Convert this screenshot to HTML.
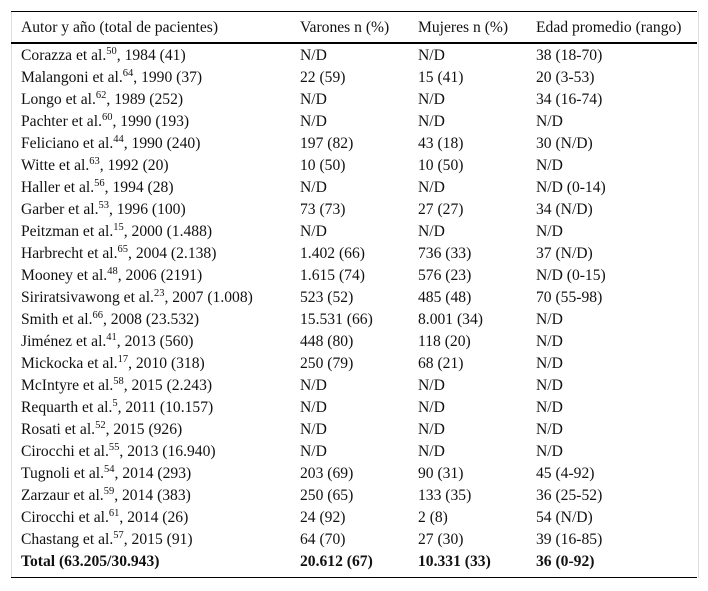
<!DOCTYPE html>
<html><head><meta charset="utf-8"><style>
body{margin:0;width:708px;height:591px;background:#fff;font-family:"Liberation Serif",serif;font-size:15.6px;color:#111;position:relative;overflow:hidden}
.frame{position:absolute;left:11px;top:11px;width:686px;height:567px;border-left:1px solid #ddd;border-right:1px solid #ddd}
.line{position:absolute;left:11px;width:686px;background:#000}
.row{position:absolute;left:0;width:708px;height:22px;line-height:22px;white-space:nowrap}
.row span{position:absolute;top:0}
.c1{left:21px}.c2{left:300px}.c3{left:418px}.c4{left:536px}
sup{font-size:10.5px;line-height:0;vertical-align:6px}
.b{font-weight:bold}
</style></head><body>
<div class="frame"></div>
<div class="line" style="top:11px;height:1px"></div>
<div class="line" style="top:42px;height:2px"></div>
<div class="line" style="top:577px;height:1px"></div>
<div class="row" style="top:17px">
<span class="c1">Autor y año (total de pacientes)</span><span class="c2">Varones n (%)</span><span class="c3">Mujeres n (%)</span><span class="c4">Edad promedio (rango)</span></div>
<div id="body"></div>
<script>
const authors=[["Corazza et al.","50",", 1984 (41)"],["Malangoni et al.","64",", 1990 (37)"],["Longo et al.","62",", 1989 (252)"],["Pachter et al.","60",", 1990 (193)"],["Feliciano et al.","44",", 1990 (240)"],["Witte et al.","63",", 1992 (20)"],["Haller et al.","56",", 1994 (28)"],["Garber et al.","53",", 1996 (100)"],["Peitzman et al.","15",", 2000 (1.488)"],["Harbrecht et al.","65",", 2004 (2.138)"],["Mooney et al.","48",", 2006 (2191)"],["Siriratsivawong et al.","23",", 2007 (1.008)"],["Smith et al.","66",", 2008 (23.532)"],["Jiménez et al.","41",", 2013 (560)"],["Mickocka et al.","17",", 2010 (318)"],["McIntyre et al.","58",", 2015 (2.243)"],["Requarth et al.","5",", 2011 (10.157)"],["Rosati et al.","52",", 2015 (926)"],["Cirocchi et al.","55",", 2013 (16.940)"],["Tugnoli et al.","54",", 2014 (293)"],["Zarzaur et al.","59",", 2014 (383)"],["Cirocchi et al.","61",", 2014 (26)"],["Chastang et al.","57",", 2015 (91)"]];
const men=["N/D","22 (59)","N/D","N/D","197 (82)","10 (50)","N/D","73 (73)","N/D","1.402 (66)","1.615 (74)","523 (52)","15.531 (66)","448 (80)","250 (79)","N/D","N/D","N/D","N/D","203 (69)","250 (65)","24 (92)","64 (70)"];
const women=["N/D","15 (41)","N/D","N/D","43 (18)","10 (50)","N/D","27 (27)","N/D","736 (33)","576 (23)","485 (48)","8.001 (34)","118 (20)","68 (21)","N/D","N/D","N/D","N/D","90 (31)","133 (35)","2 (8)","27 (30)"];
const ages=["38 (18-70)","20 (3-53)","34 (16-74)","N/D","30 (N/D)","N/D","N/D (0-14)","34 (N/D)","N/D","37 (N/D)","N/D (0-15)","70 (55-98)","N/D","N/D","N/D","N/D","N/D","N/D","N/D","45 (4-92)","36 (25-52)","54 (N/D)","39 (16-85)"];
const total=["Total (63.205/30.943)","20.612 (67)","10.331 (33)","36 (0-92)"];
const body=document.getElementById('body');
let html='';
authors.forEach((a,i)=>{
 html+=`<div class="row" style="top:${45+i*22}px"><span class="c1">${a[0]}<sup>${a[1]}</sup>${a[2]}</span><span class="c2">${men[i]}</span><span class="c3">${women[i]}</span><span class="c4">${ages[i]}</span></div>`;
});
html+=`<div class="row b" style="top:${45+authors.length*22}px"><span class="c1">${total[0]}</span><span class="c2">${total[1]}</span><span class="c3">${total[2]}</span><span class="c4">${total[3]}</span></div>`;
body.innerHTML=html;
</script>
</body></html>
